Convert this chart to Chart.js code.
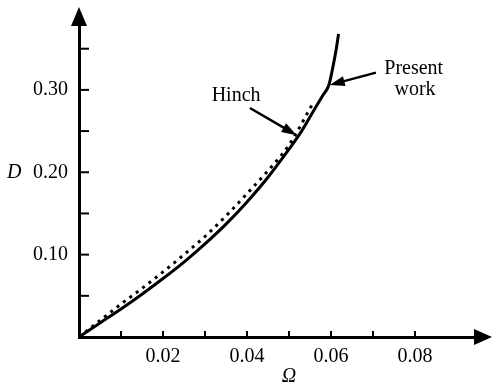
<!DOCTYPE html>
<html lang="en">
<head>
    <meta charset="UTF-8">
    <title>D versus Omega</title>
    <script src="https://cdn.jsdelivr.net/npm/chart.js"></script>
    <style>
        body { margin: 0; background: #fff; overflow: hidden; }
        canvas { display: block; }
    </style>
</head>
<body>
    <canvas id="dChart" width="492" height="388"></canvas>

    <script>
        // Present work (solid curve)
        const presentOmega = [0, 0.005, 0.01, 0.015, 0.02, 0.025, 0.03, 0.035, 0.04, 0.045, 0.05, 0.053, 0.056, 0.058, 0.0595, 0.0605, 0.0612, 0.0618];
        const presentD     = [0, 0.017, 0.034, 0.052, 0.071, 0.091, 0.113, 0.137, 0.164, 0.194, 0.228, 0.250, 0.276, 0.293, 0.306, 0.329, 0.348, 0.368];

        // Hinch (dotted curve)
        const hinchOmega = [0, 0.005, 0.01, 0.015, 0.02, 0.025, 0.03, 0.035, 0.04, 0.045, 0.05, 0.0555];
        const hinchD     = [0, 0.020, 0.040, 0.059, 0.079, 0.100, 0.122, 0.147, 0.174, 0.202, 0.233, 0.282];

        // axis ticks
        const xTickValues = [0.01, 0.02, 0.03, 0.04, 0.05, 0.06, 0.07, 0.08];
        const xTickLabels = ['', '0.02', '', '0.04', '', '0.06', '', '0.08'];
        const yTickValues = [0.05, 0.10, 0.15, 0.20, 0.25, 0.30, 0.35];
        const yTickLabels = ['', '0.10', '', '0.20', '', '0.30', ''];

        const SERIF = '"Liberation Serif", "DejaVu Serif", serif';
        const FONT_SIZE = 20;

        function toPoints(xs, ys) {
            return xs.map((x, i) => ({ x: x, y: ys[i] }));
        }

        function arrow(ctx, x1, y1, x2, y2) {
            const a = Math.atan2(y2 - y1, x2 - x1);
            const len = 15, half = 5;
            ctx.beginPath();
            ctx.moveTo(x1, y1);
            ctx.lineTo(x2 - Math.cos(a) * len * 0.8, y2 - Math.sin(a) * len * 0.8);
            ctx.lineWidth = 2.5;
            ctx.stroke();
            ctx.beginPath();
            ctx.moveTo(x2, y2);
            ctx.lineTo(x2 - Math.cos(a) * len - Math.sin(a) * half, y2 - Math.sin(a) * len + Math.cos(a) * half);
            ctx.lineTo(x2 - Math.cos(a) * len + Math.sin(a) * half, y2 - Math.sin(a) * len - Math.cos(a) * half);
            ctx.closePath();
            ctx.fill();
        }

        // inward ticks, axis arrowheads, axis names and curve labels
        const decorations = {
            id: 'decorations',
            afterDraw(chart) {
                const ctx = chart.ctx;
                const xs = chart.scales.x, ys = chart.scales.y;
                const area = chart.chartArea;
                ctx.save();
                ctx.strokeStyle = '#000';
                ctx.fillStyle = '#000';

                // ticks pointing into the plot
                ctx.lineWidth = 2;
                ys.ticks.forEach(t => {
                    const py = ys.getPixelForValue(t.value);
                    ctx.beginPath();
                    ctx.moveTo(area.left, py);
                    ctx.lineTo(area.left + 10, py);
                    ctx.stroke();
                });
                xs.ticks.forEach(t => {
                    const px = xs.getPixelForValue(t.value);
                    ctx.beginPath();
                    ctx.moveTo(px, area.bottom);
                    ctx.lineTo(px, area.bottom - 6);
                    ctx.stroke();
                });

                // arrowheads at the axis ends
                ctx.beginPath();
                ctx.moveTo(area.left, area.top - 17);
                ctx.lineTo(area.left - 8, area.top + 2);
                ctx.lineTo(area.left + 8, area.top + 2);
                ctx.closePath();
                ctx.fill();
                ctx.beginPath();
                ctx.moveTo(area.right + 14, area.bottom);
                ctx.lineTo(area.right - 4, area.bottom - 8);
                ctx.lineTo(area.right - 4, area.bottom + 8);
                ctx.closePath();
                ctx.fill();

                // axis names
                ctx.font = 'italic ' + FONT_SIZE + 'px ' + SERIF;
                ctx.textBaseline = 'middle';
                ctx.textAlign = 'center';
                ctx.fillText('Ω', xs.getPixelForValue(0.05), 377);
                ctx.textAlign = 'left';
                ctx.fillText('D', 7, ys.getPixelForValue(0.20));

                // curve labels with pointers
                ctx.font = FONT_SIZE + 'px ' + SERIF;
                ctx.textAlign = 'center';
                ctx.fillText('Hinch', xs.getPixelForValue(0.0374), ys.getPixelForValue(0.293));
                ctx.fillText('Present', xs.getPixelForValue(0.0797), ys.getPixelForValue(0.326));
                ctx.fillText('work', xs.getPixelForValue(0.0800), ys.getPixelForValue(0.300));

                arrow(ctx, xs.getPixelForValue(0.0407), ys.getPixelForValue(0.278),
                           xs.getPixelForValue(0.0518), ys.getPixelForValue(0.245));
                arrow(ctx, xs.getPixelForValue(0.0707), ys.getPixelForValue(0.321),
                           xs.getPixelForValue(0.0597), ys.getPixelForValue(0.306));
                ctx.restore();
            }
        };

        new Chart(document.getElementById('dChart'), {
            type: 'scatter',
            data: {
                datasets: [
                    {
                        label: 'Present work',
                        data: toPoints(presentOmega, presentD),
                        showLine: true,
                        borderColor: '#000',
                        borderWidth: 3,
                        pointRadius: 0,
                        cubicInterpolationMode: 'monotone'
                    },
                    {
                        label: 'Hinch',
                        data: toPoints(hinchOmega, hinchD),
                        showLine: true,
                        borderColor: '#000',
                        borderWidth: 3,
                        borderDash: [3, 5],
                        pointRadius: 0,
                        cubicInterpolationMode: 'monotone'
                    }
                ]
            },
            options: {
                responsive: false,
                animation: false,
                layout: { padding: { top: 24, right: 14, left: 0, bottom: 0 } },
                plugins: {
                    legend: { display: false },
                    tooltip: { enabled: false }
                },
                scales: {
                    x: {
                        type: 'linear',
                        min: 0,
                        max: 0.095,
                        afterFit: s => { s.height = 51; },
                        afterBuildTicks: s => { s.ticks = xTickValues.map(v => ({ value: v })); },
                        grid: { display: false, drawTicks: false },
                        border: { display: true, color: '#000', width: 3 },
                        ticks: {
                            autoSkip: false,
                            maxRotation: 0,
                            padding: 8,
                            color: '#000',
                            font: { family: SERIF, size: FONT_SIZE },
                            callback: (v, i) => xTickLabels[i]
                        }
                    },
                    y: {
                        type: 'linear',
                        min: 0,
                        max: 0.38,
                        afterFit: s => { s.width = 79; },
                        afterBuildTicks: s => { s.ticks = yTickValues.map(v => ({ value: v })); },
                        grid: { display: false, drawTicks: false },
                        border: { display: true, color: '#000', width: 3 },
                        ticks: {
                            autoSkip: false,
                            padding: 11,
                            color: '#000',
                            font: { family: SERIF, size: FONT_SIZE },
                            callback: (v, i) => yTickLabels[i]
                        }
                    }
                }
            },
            plugins: [decorations]
        });
    </script>
</body>
</html>
